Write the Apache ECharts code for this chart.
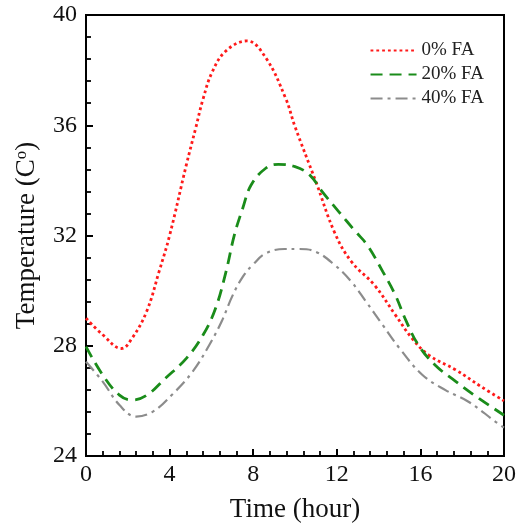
<!DOCTYPE html>
<html>
<head>
<meta charset="utf-8">
<script src="https://cdn.jsdelivr.net/npm/echarts@6/dist/echarts.min.js"></script>
<style>html,body{margin:0;padding:0;background:#fff}#c{width:519px;height:529px}</style>
</head>
<body>
<div id="c"></div>
<script>
var seriesNames = ['0% FA', '20% FA', '40% FA'];
var xTicks = [0, 4, 8, 12, 16, 20];
var yTicks = [24, 28, 32, 36, 40];

var fa0Time = [0, 0.8, 1.7, 2.2, 2.9, 3.5, 4.0, 4.8, 5.25, 5.6, 6.05, 6.7, 7.7, 8.6, 9.55, 10.0, 11.0, 11.9, 12.7, 13.8, 14.8, 15.6, 16.4, 17.7, 18.9, 20];
var fa0Temp = [29.0, 28.4, 27.9, 28.27, 29.24, 30.7, 32.0, 34.56, 35.9, 36.95, 37.95, 38.7, 39.06, 38.45, 36.98, 35.95, 33.95, 32.1, 31.05, 30.2, 29.12, 28.27, 27.66, 27.12, 26.52, 26.0];

var fa20Time = [0, 0.8, 1.6, 2.2, 2.9, 3.8, 4.8, 5.6, 6.2, 6.7, 7.1, 7.5, 7.9, 8.6, 9.2, 10.0, 10.7, 11.3, 12.1, 12.9, 13.45, 14.2, 14.8, 15.3, 15.9, 16.7, 17.7, 18.8, 20];
var fa20Temp = [27.97, 26.94, 26.21, 26.03, 26.2, 26.82, 27.54, 28.39, 29.36, 30.69, 32.02, 32.99, 33.83, 34.44, 34.58, 34.5, 34.2, 33.59, 32.86, 32.14, 31.66, 30.69, 29.84, 28.93, 28.03, 27.3, 26.7, 26.09, 25.48];

var fa40Time = [0, 0.8, 1.6, 2.4, 3.2, 4.1, 5.1, 5.9, 6.5, 7.0, 7.5, 8.0, 8.6, 9.5, 10.2, 11.0, 11.9, 12.7, 13.4, 14.2, 15.0, 16.1, 17.2, 18.3, 19.6, 20];
var fa40Temp = [27.42, 26.7, 25.85, 25.43, 25.61, 26.21, 27.06, 28.03, 28.9, 29.8, 30.5, 30.95, 31.35, 31.51, 31.51, 31.41, 30.93, 30.32, 29.6, 28.75, 27.91, 26.94, 26.39, 25.97, 25.24, 25.03];

function pairs(xs, ys) { return xs.map(function (x, i) { return [x, ys[i]]; }); }

var font = 'Liberation Serif, Times New Roman, serif';
var chart = echarts.init(document.getElementById('c'), null, {renderer: 'canvas'});
chart.setOption({
  animation: false,
  backgroundColor: '#fff',
  grid: {left: 86, top: 15, right: 14, bottom: 73, show: true, borderColor: '#000', borderWidth: 2, backgroundColor: 'transparent'},
  legend: {
    orient: 'vertical', right: 30, top: 36,
    itemWidth: 46, itemHeight: 12, itemGap: 5,
    itemStyle: {opacity: 0},
    textStyle: {fontFamily: font, fontSize: 19, color: '#222'},
    data: seriesNames
  },
  xAxis: {
    type: 'value', min: xTicks[0], max: xTicks[xTicks.length - 1], interval: 4,
    name: 'Time (hour)', nameLocation: 'middle', nameGap: 40,
    nameTextStyle: {fontFamily: font, fontSize: 27, color: '#111'},
    axisLine: {lineStyle: {color: '#000', width: 2}},
    axisTick: {inside: true, length: 7, lineStyle: {color: '#000', width: 2}},
    minorTick: {show: true, splitNumber: 5, length: 5, lineStyle: {color: '#000', width: 1.8}},
    axisLabel: {fontFamily: font, fontSize: 24, color: '#111', margin: 7},
    splitLine: {show: false}
  },
  yAxis: {
    type: 'value', min: yTicks[0], max: yTicks[yTicks.length - 1], interval: 4,
    name: 'Temperature (C{sup|o})', nameLocation: 'middle', nameGap: 46,
    nameTextStyle: {fontFamily: font, fontSize: 27, color: '#111', rich: {sup: {fontFamily: font, fontSize: 17, verticalAlign: 'top', padding: [0,0,10,0]}}},
    axisLine: {lineStyle: {color: '#000', width: 2}},
    axisTick: {inside: true, length: 7, lineStyle: {color: '#000', width: 2}},
    minorTick: {show: true, splitNumber: 5, length: 5, lineStyle: {color: '#000', width: 1.8}},
    axisLabel: {fontFamily: font, fontSize: 24, color: '#111', margin: 9},
    splitLine: {show: false}
  },
  series: [
    {name: seriesNames[0], type: 'line', smooth: 0.4, showSymbol: false, symbol: 'none',
     data: pairs(fa0Time, fa0Temp), color: '#ff1a1a',
     lineStyle: {color: '#ff1a1a', width: 2.8, type: [2.8, 3]}},
    {name: seriesNames[1], type: 'line', smooth: 0.4, showSymbol: false, symbol: 'none',
     data: pairs(fa20Time, fa20Temp), color: '#1a8c1a',
     lineStyle: {color: '#1a8c1a', width: 2.8, type: [12, 7]}},
    {name: seriesNames[2], type: 'line', smooth: 0.4, showSymbol: false, symbol: 'none',
     data: pairs(fa40Time, fa40Temp), color: '#8c8c8c',
     lineStyle: {color: '#8c8c8c', width: 2.2, type: [12, 5, 3, 5]}}
  ]
});
</script>
</body>
</html>
